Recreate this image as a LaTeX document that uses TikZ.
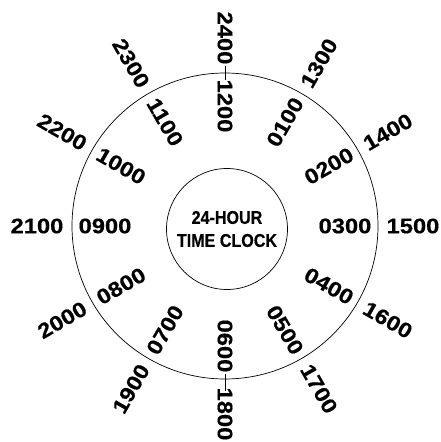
\documentclass[tikz,border=0pt]{standalone}
\usepackage{fontspec}
\newfontfamily\hourfont[FakeStretch=1.13, UprightFont={* Bold}, FakeBold=0.6]{Liberation Sans}
\newfontfamily\titlefont[FakeStretch=0.87, UprightFont={* Bold}, FakeBold=0.4]{Liberation Sans}
\tikzset{
	hour/.style={inner sep=0pt, font=\hourfont\fontsize{21}{24}\selectfont},
	dial/.style={line width=0.7pt},
}
\begin{document}
\begin{tikzpicture}[x=1pt, y=1pt]
		\useasboundingbox (-225,-216) rectangle (215,226);
		\draw[dial] (0,0) circle (153);
		\node[dial, draw, circle, minimum size=121, inner sep=0pt, align=center,
			font=\titlefont\fontsize{18.5}{23}\selectfont] (clock) at (2,-3)
		{24-HOUR\\TIME CLOCK};
		\draw[dial] (90:146) -- (90:160);
		\draw[dial] (270:148) -- (270:165);
		\foreach \h in {1,...,12} {
				\pgfmathtruncatemacro{\ang}{90-30*\h}
				\ifnum\h<7
					\pgfmathtruncatemacro{\rot}{\ang}
				\else
					\pgfmathtruncatemacro{\rot}{\ang+180}
				\fi
				\pgfmathtruncatemacro{\late}{\h+12}
				\node[hour, rotate=\rot] (am-\h) at (\ang:120) {\ifnum\h<10 0\fi\h00};
				\node[hour, rotate=\rot] (pm-\h) at (\ang:188) {\late00};
			}
	\end{tikzpicture}
\end{document}
